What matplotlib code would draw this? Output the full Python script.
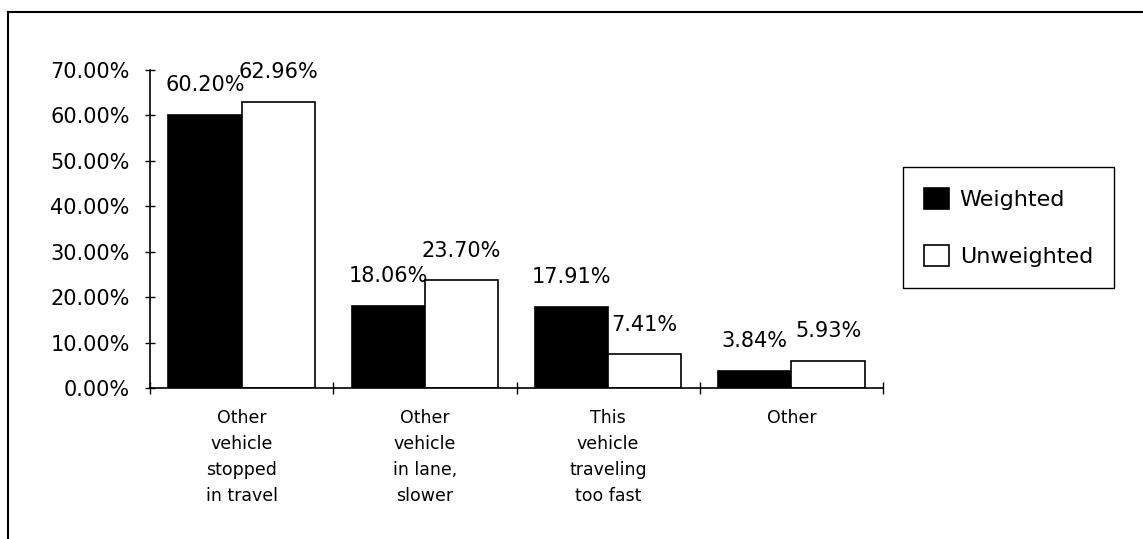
import matplotlib
matplotlib.use("Agg")
import matplotlib.pyplot as plt
from matplotlib.lines import Line2D
import numpy as np

categories = ["Other\nvehicle\nstopped\nin travel",
              "Other\nvehicle\nin lane,\nslower",
              "This\nvehicle\ntraveling\ntoo fast",
              "Other"]
weighted = [60.20, 18.06, 17.91, 3.84]
unweighted = [62.96, 23.70, 7.41, 5.93]
series_names = ["Weighted", "Unweighted"]
y_ticks = [0, 10, 20, 30, 40, 50, 60, 70]

plt.rcParams["font.family"] = ["DejaVu Sans"]

W, H = 1143, 539
fig = plt.figure(figsize=(W / 100, H / 100), dpi=100)
fig.patch.set_facecolor("white")

ax = fig.add_axes([150 / W, 1 - 388 / H, (883 - 150) / W, (388 - 70) / H])

x = np.arange(len(categories))
bw = 0.4
b1 = ax.bar(x - bw / 2, weighted, bw, color="black", edgecolor="black",
            linewidth=1.2, label=series_names[0])
b2 = ax.bar(x + bw / 2, unweighted, bw, color="white", edgecolor="black",
            linewidth=1.2, label=series_names[1])

for bars, vals in ((b1, weighted), (b2, unweighted)):
    for rect, v in zip(bars, vals):
        ax.annotate(f"{v:.2f}%", (rect.get_x() + rect.get_width() / 2, v),
                    xytext=(0, 17), textcoords="offset points",
                    ha="center", va="baseline", fontsize=15,
                    annotation_clip=False)

ax.set_xlim(-0.5, len(categories) - 0.5)
ax.set_ylim(0, 70)
ax.set_yticks(y_ticks)
ax.set_yticklabels([f"{t:.2f}%" for t in y_ticks], fontsize=15)
ax.tick_params(axis="y", direction="inout", length=7, width=1.0, pad=11)

ax.set_xticks(x)
ax.set_xticklabels(categories, fontsize=12.5, linespacing=1.58, va="top",
                   fontweight="medium")
ax.tick_params(axis="x", which="major", length=0, pad=15)
ax.set_xticks(np.arange(len(categories) + 1) - 0.5, minor=True)
ax.tick_params(axis="x", which="minor", direction="inout", length=9, width=1.0)

for s in ("top", "right"):
    ax.spines[s].set_visible(False)
for s in ("left", "bottom"):
    ax.spines[s].set_linewidth(1.2)

leg = fig.legend(handles=[b1, b2], labels=series_names,
                 loc="upper left", bbox_to_anchor=(903 / W, 1 - 167 / H),
                 fontsize=16, frameon=True, fancybox=False, shadow=False,
                 framealpha=1, edgecolor="black",
                 handlelength=1.1, handleheight=1.1, handletextpad=0.5,
                 borderpad=0.95, labelspacing=1.55, borderaxespad=0)
leg.get_frame().set_linewidth(1.0)

# outer frame: top and left edges
fig.add_artist(Line2D([8 / W, 1], [1 - 12 / H, 1 - 12 / H], color="black",
                      linewidth=1.5, transform=fig.transFigure))
fig.add_artist(Line2D([8 / W, 8 / W], [0, 1 - 12 / H], color="black",
                      linewidth=1.5, transform=fig.transFigure))

fig.savefig("out.png", dpi=100)
